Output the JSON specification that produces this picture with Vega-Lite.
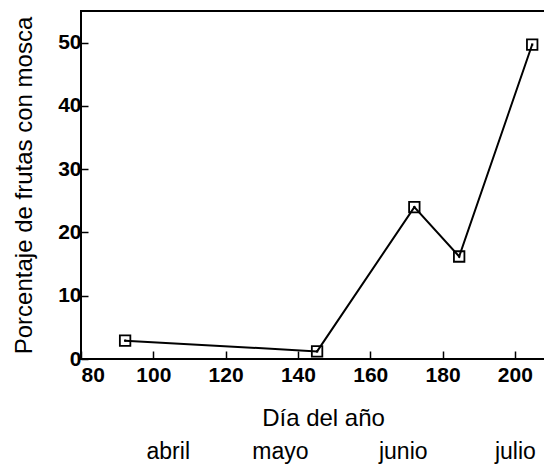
{
  "$schema": "https://vega.github.io/schema/vega-lite/v6.json",
  "width": 470,
  "height": 348,
  "autosize": "none",
  "padding": {"left": 81, "top": 11, "right": 0, "bottom": 107},
  "background": "white",
  "config": {
    "view": {"stroke": "black", "strokeWidth": 2},
    "font": "Liberation Sans",
    "axis": {"grid": false, "domain": false, "labelColor": "black", "titleColor": "black", "tickColor": "black"}
  },
  "data": {
    "values": [
      {"dia": 92.2, "pct": 2.9},
      {"dia": 145.3, "pct": 1.2},
      {"dia": 172.2, "pct": 24},
      {"dia": 184.6, "pct": 16.2},
      {"dia": 204.8, "pct": 49.7}
    ]
  },
  "layer": [
    {
      "encoding": {
        "x": {
          "field": "dia", "type": "quantitative",
          "scale": {"domain": [80, 210], "nice": false, "zero": false},
          "axis": {
            "orient": "bottom",
            "values": [80, 100, 120, 140, 160, 180, 200],
            "tickSize": -8, "tickWidth": 1.5,
            "labelFontSize": 21, "labelFontWeight": "bold", "labelPadding": 13,
            "title": "Día del año", "titleFontSize": 24, "titleFontWeight": "normal",
            "titlePadding": 21, "titleX": 242
          }
        },
        "y": {
          "field": "pct", "type": "quantitative",
          "scale": {"domain": [0, 55], "nice": false},
          "axis": {
            "values": [0, 5, 10, 15, 20, 25, 30, 35, 40, 45, 50],
            "labelExpr": "datum.value % 10 == 0 ? datum.label : ''",
            "tickSize": -7, "tickWidth": 1.5,
            "labelFontSize": 21, "labelFontWeight": "bold", "labelPadding": 7,
            "title": "Porcentaje de frutas con mosca", "titleFontSize": 24, "titleFontWeight": "normal",
            "titlePadding": 21
          }
        }
      },
      "layer": [
        {"mark": {"type": "line", "color": "black", "strokeWidth": 2}},
        {"mark": {"type": "point", "shape": "square", "filled": false, "color": "black", "size": 110, "strokeWidth": 1.8, "opacity": 1}},
        {"mark": {"type": "point", "shape": "square", "filled": true, "color": "black", "size": 5, "opacity": 1}}
      ]
    },
    {
      "mark": {"type": "point", "opacity": 0},
      "encoding": {
        "x": {
          "field": "dia", "type": "quantitative",
          "scale": {"domain": [80, 210], "nice": false, "zero": false},
          "axis": {
            "orient": "bottom",
            "offset": 81,
            "values": [104, 135, 169, 200],
            "labelExpr": "datum.value == 104 ? 'abril' : datum.value == 135 ? 'mayo' : datum.value == 169 ? 'junio' : 'julio'",
            "ticks": false, "domain": false,
            "labelFontSize": 23, "labelFontWeight": "normal", "labelPadding": 0,
            "title": null
          }
        },
        "y": {"field": "pct", "type": "quantitative", "scale": {"domain": [0, 55], "nice": false}}
      }
    }
  ],
  "resolve": {"scale": {"x": "independent"}, "axis": {"x": "independent"}}
}
